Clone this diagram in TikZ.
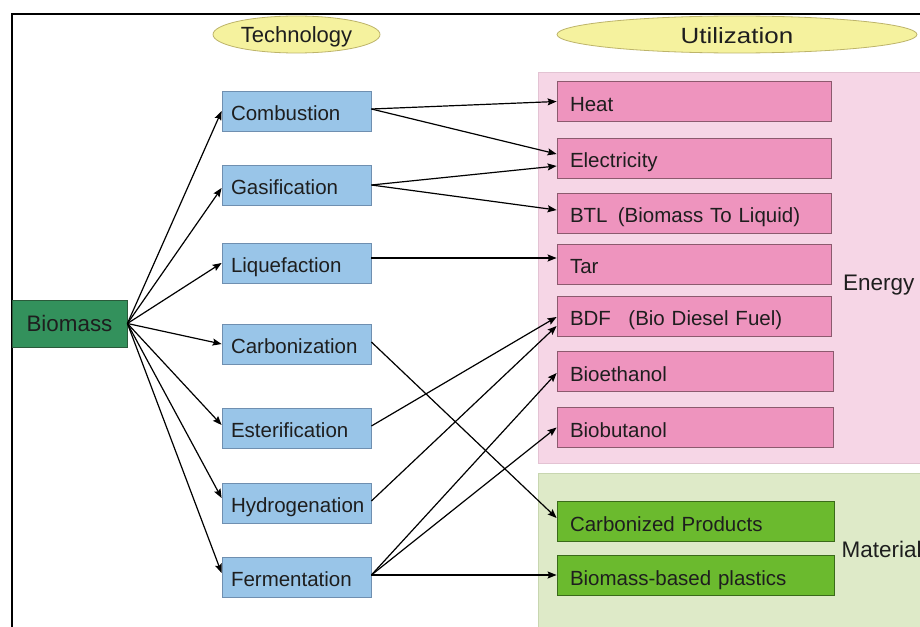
\documentclass[tikz,border=0pt]{standalone}
\usepackage{fontspec}
\setmainfont{Liberation Sans}
\newfontfamily\widefont[FakeStretch=1.18]{Liberation Sans}
\usetikzlibrary{arrows.meta,shapes.geometric}
\definecolor{txt}{HTML}{1E1E1E}
\definecolor{techfill}{HTML}{99C5E8}
\definecolor{techline}{HTML}{6F8FB0}
\definecolor{pinkfill}{HTML}{EE94BE}
\definecolor{pinkline}{HTML}{8C5A6E}
\definecolor{greenfill}{HTML}{6BBA2E}
\definecolor{greenline}{HTML}{3A6A1A}
\definecolor{biofill}{HTML}{33915C}
\definecolor{bioline}{HTML}{2A5A3A}
\definecolor{energybg}{HTML}{F6D6E6}
\definecolor{energyline}{HTML}{E3C3D3}
\definecolor{matbg}{HTML}{DEEAC8}
\definecolor{matline}{HTML}{C8D6B0}
\definecolor{ellfill}{HTML}{F5F29E}
\definecolor{ellline}{HTML}{BDB46A}
\begin{document}
\begin{tikzpicture}[x=1pt,y=-1pt,
  every node/.style={font=\fontsize{20.5}{24}\selectfont, text=txt},
  techbox/.style={draw=techline, fill=techfill, line width=0.8pt, minimum height=40pt,
    text width=131pt, inner xsep=9pt, inner ysep=0pt, align=left, text height=19pt, text depth=0pt},
  pinkbox/.style={draw=pinkline, fill=pinkfill, line width=0.8pt, minimum height=40pt,
    text width=248pt, inner xsep=13pt, inner ysep=0pt, align=left, text height=19pt, text depth=0pt},
  greenbox/.style={pinkbox, draw=greenline, fill=greenfill, text width=251pt},
  biobox/.style={draw=bioline, fill=biofill, line width=0.8pt, minimum width=115pt, minimum height=47pt,
    inner sep=0pt, font=\fontsize{22.4}{26}\selectfont, text height=15.5pt, text depth=0.5pt},
  headell/.style={ellipse, draw=ellline, fill=ellfill, line width=0.8pt, inner sep=0pt,
    minimum height=37pt, font=\fontsize{22}{26}\selectfont, text depth=0pt},
  grouplabel/.style={anchor=base west, inner sep=0pt, font=\fontsize{22.5}{26}\selectfont},
  arr/.style={-{Stealth[length=9pt,width=7pt,inset=1.5pt]}, line width=1.2pt, black}
]
\useasboundingbox (0,0) rectangle (920,626);
\clip (0,0) rectangle (920,626);
\fill[white] (0,0) rectangle (920,626);
% frame
\draw[line width=1.6pt, black] (920,14) -- (12,14) -- (12,630);
% group backgrounds
\filldraw[fill=energybg, draw=energyline, line width=0.8pt] (538,72) rectangle (930,463);
\filldraw[fill=matbg, draw=matline, line width=0.8pt] (538,473) rectangle (930,640);
% headers
\node[headell, minimum width=167pt, text height=17pt] (tech) at (296.5,34.5) {Technology};
\node[headell, minimum width=360pt, text height=19pt] (util) at (737,34.5) {\widefont Utilization};
% biomass
\node[biobox] (bio) at (69.5,323.5) {Biomass};
% technologies
\node[techbox] (comb) at (296.5,111) {Combustion};
\node[techbox] (gas)  at (296.5,185) {Gasification};
\node[techbox] (liq)  at (296.5,263) {Liquefaction};
\node[techbox] (carb) at (296.5,344) {Carbonization};
\node[techbox] (est)  at (296.5,428) {Esterification};
\node[techbox] (hyd)  at (296.5,503) {Hydrogenation};
\node[techbox] (ferm) at (296.5,577) {Fermentation};
% utilization
\node[pinkbox] (heat) at (694,101.5) {Heat};
\node[pinkbox] (elec) at (694,158) {Electricity};
\node[pinkbox] (btl)  at (694,213) {BTL\hspace{0.5em}(Biomass To Liquid)};
\node[pinkbox] (tar)  at (694,264) {Tar};
\node[pinkbox] (bdf)  at (694,316) {BDF\hspace{0.85em}(Bio Diesel Fuel)};
\node[pinkbox, text width=250pt] (beth) at (695,371.5) {Bioethanol};
\node[pinkbox, text width=250pt] (bbut) at (695,427.5) {Biobutanol};
\node[greenbox] (cprod) at (695.5,521.5) {Carbonized Products};
\node[greenbox] (plast) at (695.5,575.5) {Biomass-based plastics};
% group labels
\node[grouplabel] (energy) at (843,290) {Energy};
\node[grouplabel] (mat) at (841.5,557.5) {Materials};
% biomass -> technologies
\draw[arr] (bio.east) -- (comb.west);
\draw[arr] (bio.east) -- ([yshift=-3pt]gas.west);
\draw[arr] (bio.east) -- (liq.west);
\draw[arr] (bio.east) -- (carb.west);
\draw[arr] (bio.east) -- ([yshift=3pt]est.west);
\draw[arr] (bio.east) -- ([yshift=5pt]hyd.west);
\draw[arr] (bio.east) -- ([yshift=4pt]ferm.west);
% technologies -> utilization
\draw[arr] ([yshift=2pt]comb.east) -- (heat.west);
\draw[arr] ([yshift=2pt]comb.east) -- ([yshift=4pt]elec.west);
\draw[arr] (gas.east) -- ([yshift=-8pt]elec.west);
\draw[arr] (gas.east) -- ([yshift=3pt]btl.west);
\draw[arr] ([yshift=5pt]liq.east) -- ([yshift=6pt]tar.west);
\draw[arr] ([yshift=2pt]carb.east) -- ([yshift=3.5pt]cprod.west);
\draw[arr] ([yshift=2pt]est.east) -- ([yshift=-1pt]bdf.west);
\draw[arr] ([yshift=2pt]hyd.east) -- ([yshift=-10pt]bdf.west);
\draw[arr] ([yshift=2pt]ferm.east) -- ([yshift=-1.5pt]beth.west);
\draw[arr] ([yshift=2pt]ferm.east) -- (bbut.west);
\draw[arr] ([yshift=2pt]ferm.east) -- ([yshift=0.5pt]plast.west);
\end{tikzpicture}
\end{document}
